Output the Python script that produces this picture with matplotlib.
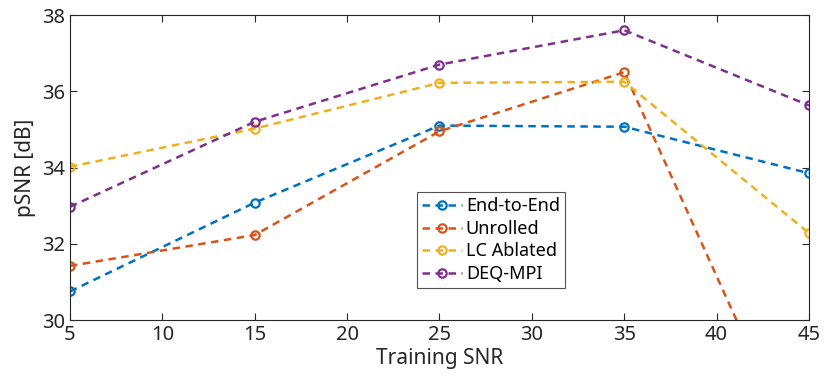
import matplotlib
matplotlib.use("Agg")
import matplotlib.pyplot as plt

plt.rcParams['font.family'] = ['Noto Sans', 'DejaVu Sans']

snr = [5, 15, 25, 35, 45]
end_to_end = [30.75, 33.08, 35.10, 35.07, 33.85]
unrolled = [31.42, 32.23, 34.95, 36.50, 25.8]
lc_ablated = [34.02, 35.02, 36.22, 36.25, 32.28]
deq_mpi = [32.97, 35.20, 36.70, 37.60, 35.63]

series = [("End-to-End", end_to_end, "#0072BD"),
          ("Unrolled", unrolled, "#D95319"),
          ("LC Ablated", lc_ablated, "#EDB120"),
          ("DEQ-MPI", deq_mpi, "#7E2F8E")]

fig = plt.figure(figsize=(8.3, 3.81), dpi=100)
ax = fig.add_axes([0.0843, 0.160, 0.8904, 0.8006])
for name, vals, c in series:
    ax.plot(snr, vals, linestyle=(0, (3.0, 2.2)), color=c, linewidth=1.8,
            marker='o', markersize=6, markerfacecolor='none',
            markeredgewidth=1.6, label=name)

ax.set_xlim(5, 45)
ax.set_ylim(30, 38)
ax.set_xticks([5, 10, 15, 20, 25, 30, 35, 40, 45])
ax.set_yticks([30, 32, 34, 36, 38])
ax.tick_params(direction='in', top=True, right=True, labelsize=14.5,
               colors='#262626', length=5, width=0.8)
for s in ax.spines.values():
    s.set_color('#262626')
    s.set_linewidth(0.8)
ax.set_xlabel('Training SNR', fontsize=15, color='#262626', labelpad=2)
ax.set_ylabel('pSNR [dB]', fontsize=15, color='#262626', labelpad=4)

leg = ax.legend(loc='upper left', bbox_to_anchor=(0.4696, 0.42), fontsize=13,
                frameon=True, fancybox=False, edgecolor='#262626',
                handlelength=2.2, handletextpad=0.2, borderpad=0.3,
                labelspacing=0.25, borderaxespad=0)
leg.get_frame().set_linewidth(0.8)

fig.savefig('out.png', dpi=100)
